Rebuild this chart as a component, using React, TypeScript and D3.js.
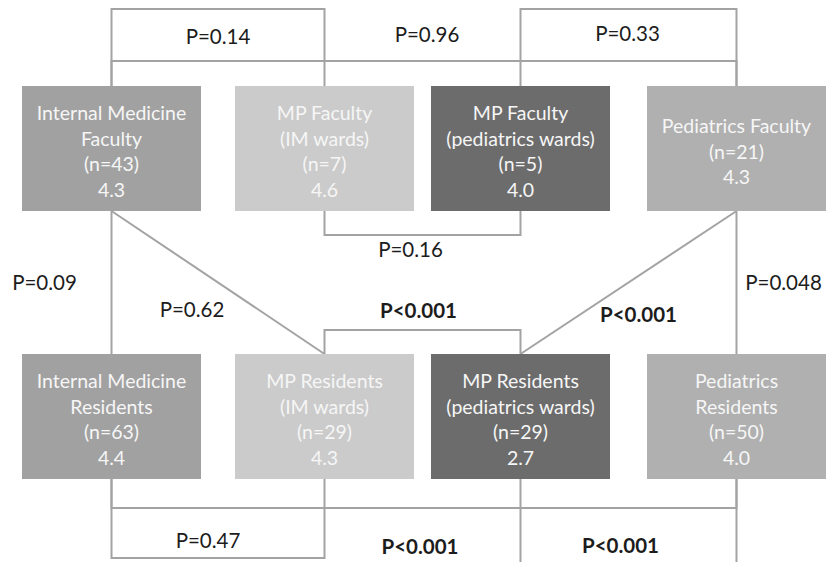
import React, { useRef, useEffect } from 'react';
import * as d3 from 'd3';

// groups: row 0 = faculty, row 1 = residents; 4 columns each
const roles = ['Faculty', 'Residents'];
const columns = ['IM', 'MP-IM', 'MP-Peds', 'Peds'];

const facultyLabels = [
  ['Internal Medicine', 'Faculty'],
  ['MP Faculty', '(IM wards)'],
  ['MP Faculty', '(pediatrics wards)'],
  ['Pediatrics Faculty'],
];
const facultyN = [43, 7, 5, 21];
const facultyMean = [4.3, 4.6, 4.0, 4.3];

const residentLabels = [
  ['Internal Medicine', 'Residents'],
  ['MP Residents', '(IM wards)'],
  ['MP Residents', '(pediatrics wards)'],
  ['Pediatrics', 'Residents'],
];
const residentN = [63, 29, 29, 50];
const residentMean = [4.4, 4.3, 2.7, 4.0];

// pairwise comparisons: [row, col] -> [row, col]
const comparisons = [
  { a: [0, 0], b: [0, 1], p: 'P=0.14' },
  { a: [0, 0], b: [0, 3], p: 'P=0.96' },
  { a: [0, 2], b: [0, 3], p: 'P=0.33' },
  { a: [0, 1], b: [0, 2], p: 'P=0.16' },
  { a: [0, 0], b: [1, 0], p: 'P=0.09' },
  { a: [0, 0], b: [1, 1], p: 'P=0.62' },
  { a: [1, 1], b: [1, 2], p: 'P<0.001' },
  { a: [0, 3], b: [1, 2], p: 'P<0.001' },
  { a: [0, 3], b: [1, 3], p: 'P=0.048' },
  { a: [1, 0], b: [1, 1], p: 'P=0.47' },
  { a: [1, 0], b: [1, 3], p: 'P<0.001' },
  { a: [1, 2], b: [1, 3], p: 'P<0.001' },
];

// how each connector is routed (layout only, same order as comparisons)
// edge: which box edge it is measured from, level: offset of the horizontal run,
// dx: label shift from the midpoint, ly: label baseline offset
const routes = [
  { kind: 'bracket', edge: 'top', level: -77, dx: 0, ly: -42 },
  { kind: 'bracket', edge: 'top', level: -25, dx: 3, ly: -44 },
  { kind: 'bracket', edge: 'top', level: -77, dx: -1, ly: -45 },
  { kind: 'bracket', edge: 'bottom', level: 24, dx: -12, ly: 46 },
  { kind: 'line', edge: 'bottom', level: 0, dx: -67, ly: 79 },
  { kind: 'line', edge: 'bottom', level: 0, dx: -26, ly: 106 },
  { kind: 'bracket', edge: 'top', level: -24, dx: -4, ly: -36 },
  { kind: 'line', edge: 'bottom', level: 0, dx: 10, ly: 111 },
  { kind: 'line', edge: 'bottom', level: 0, dx: 47, ly: 79 },
  { kind: 'bracket', edge: 'bottom', level: 79, dx: -10, ly: 69 },
  { kind: 'bracket', edge: 'bottom', level: 29, dx: -4, ly: 75 },
  { kind: 'bracket', edge: 'bottom', level: 110, dx: -8, ly: 74 },
];

const boxFill = ['#a1a1a1', '#cbcbcb', '#6c6c6c', '#b0b0b0'];

const Diagram = () => {
  const ref = useRef<SVGSVGElement>(null);

  useEffect(() => {
    if (!ref.current) return;
    const svg = d3.select(ref.current);
    svg.selectAll('*').remove();

    const width = 828;
    const height = 562;
    const boxW = 179;
    svg.attr('width', width).attr('height', height);

    // column centres (uneven spacing in the original figure)
    const x = d3.scaleLinear().domain([0, 1, 2, 3]).range([111.5, 324.5, 520.5, 736.5]);
    const y = d3
      .scaleBand<string>()
      .domain(roles)
      .range([86, 479])
      .paddingInner(143 / 268);
    const boxH = y.bandwidth();

    const top = (r: number) => y(roles[r]) as number;
    const bottom = (r: number) => top(r) + boxH;

    const lineColor = '#a3a3a3';
    const fmt = d3.format('.1f');

    // connectors first, boxes on top
    const links = svg.append('g').attr('fill', 'none').attr('stroke', lineColor).attr('stroke-width', 2);
    const labels = svg
      .append('g')
      .style('font-family', 'Lato, "Open Sans", sans-serif')
      .attr('font-size', 20.5)
      .attr('fill', '#1c1c1c')
      .attr('text-anchor', 'middle');

    comparisons.forEach((c, i) => {
      const rt = routes[i];
      const [ra, ca] = c.a;
      const [rb, cb] = c.b;
      const xa = x(ca);
      const xb = x(cb);
      let d = '';
      let base = 0;
      if (rt.kind === 'bracket') {
        const e = rt.edge === 'top' ? top(ra) : bottom(ra);
        const lv = e + rt.level;
        d = `M${xa},${e}V${lv}H${xb}V${e}`;
        base = e;
      } else {
        d = `M${xa},${bottom(ra)}L${xb},${top(rb)}`;
        base = bottom(ra);
      }
      links.append('path').attr('d', d);
      labels
        .append('text')
        .attr('x', (xa + xb) / 2 + rt.dx)
        .attr('y', base + rt.ly)
        .attr('font-weight', c.p.startsWith('P<') ? 700 : 400)
        .text(c.p);
    });

    const groups = [
      { labels: facultyLabels, n: facultyN, mean: facultyMean },
      { labels: residentLabels, n: residentN, mean: residentMean },
    ];

    const boxes = svg.append('g');
    groups.forEach((g, r) => {
      columns.forEach((_, ci) => {
        const lines = [...g.labels[ci], `(n=${g.n[ci]})`, fmt(g.mean[ci])];
        const cx = x(ci);
        const cy = top(r) + boxH / 2 + 3;
        boxes
          .append('rect')
          .attr('x', cx - boxW / 2)
          .attr('y', top(r))
          .attr('width', boxW)
          .attr('height', boxH)
          .attr('fill', boxFill[ci]);
        const lh = 25.5;
        const t = boxes
          .append('text')
          .attr('text-anchor', 'middle')
          .attr('fill', '#f6f6f6')
          .attr('font-size', 19.5)
          .style('font-family', 'Lato, "Open Sans", sans-serif');
        lines.forEach((ln, k) => {
          t.append('tspan')
            .attr('x', cx)
            .attr('y', cy + (k - (lines.length - 1) / 2) * lh + 7)
            .text(ln);
        });
      });
    });
  }, []);

  return <svg ref={ref} style={{ position: 'absolute', left: 0, top: 0, background: '#fff' }} />;
};

export default function App() {
  return <Diagram />;
}
